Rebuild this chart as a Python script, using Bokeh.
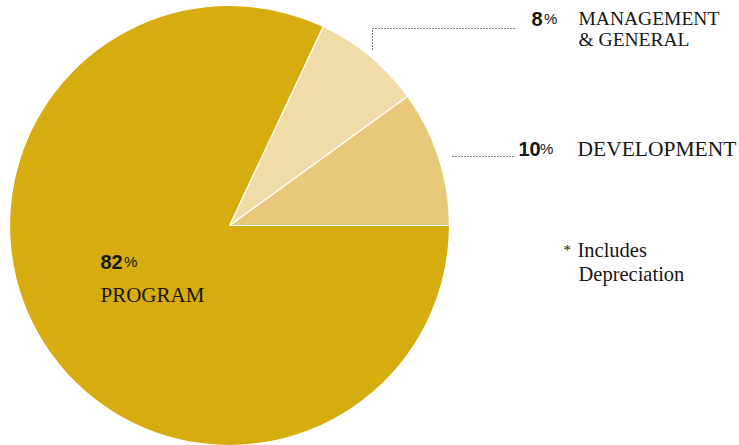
import math
from bokeh.plotting import figure
from bokeh.models import ColumnDataSource, Range1d
from bokeh.core.properties import value
from bokeh.embed import file_html
from bokeh.resources import INLINE

# ---- data ----
categories = ["DEVELOPMENT", "MANAGEMENT & GENERAL", "PROGRAM"]
percents = [10, 8, 82]
colors = ["#E8C879", "#F1DBA8", "#D6AC0F"]
pct_labels = ["10", "8", "82"]

W, H = 739, 445
TEXT_SHIFT = 8  # compensate baseline offset of text glyph

def Y(py):
    # page pixel (from top) -> data y (up)
    return H - py

def TY(py):
    return H - (py - TEXT_SHIFT)

def X(px):
    return px

p = figure(width=W, height=H, output_backend="svg", toolbar_location=None,
           x_range=Range1d(0, W), y_range=Range1d(0, H),
           min_border=0)
p.axis.visible = False
p.grid.visible = False
p.outline_line_color = None
p.background_fill_color = "white"
p.border_fill_color = "white"

# wedges
total = float(sum(percents))
starts, ends = [], []
acc = 0.0
for v in percents:
    starts.append(2 * math.pi * acc / total)
    acc += v
    ends.append(2 * math.pi * acc / total)

cx, cy, r = 229, 225, 220
src = ColumnDataSource(dict(x=[X(cx)] * 3, y=[Y(cy)] * 3, start=starts, end=ends,
                            color=colors, cat=categories))
p.wedge(x="x", y="y", radius=r, start_angle="start", end_angle="end",
        fill_color="color", line_color="white", line_width=1.2, source=src)

serif = value("Liberation Serif")
sans = value("Liberation Sans")
ink = "#161616"

# dotted leaders
p.line([X(372), X(372), X(516)], [Y(49), Y(28), Y(28)], line_color="#000000",
       line_width=1.1, line_dash="1 2")
p.line([X(452), X(515)], [Y(156), Y(156)], line_color="#000000",
       line_width=1.1, line_dash="1 2")

def num(px, py, s, pct_x):
    p.text([X(px)], [TY(py)], text=[s], text_font=sans, text_font_style="bold",
           text_font_size="20px", text_color=ink, text_baseline="alphabetic")
    p.text([X(pct_x)], [TY(py)], text=["%"], text_font=sans,
           text_font_size="15px", text_color=ink, text_baseline="alphabetic")

def lab(px, py, s, size="20px"):
    p.text([X(px)], [TY(py)], text=[s], text_font=serif,
           text_font_size=size, text_color=ink, text_baseline="alphabetic")

# management
num(531, 26, pct_labels[1], 543.5)
lab(578, 26, "MANAGEMENT", "19.5px")
lab(578, 47, "& GENERAL", "19.5px")
# development
num(518, 156, pct_labels[0], 539.5)
lab(577, 156, "DEVELOPMENT", "21.5px")
# program
num(100, 269, pct_labels[2], 123.5)
lab(100, 302, "PROGRAM", "21px")
# footnote
lab(563, 257, "*", "15px")
lab(577, 257, "Includes", "20.5px")
lab(578, 281, "Depreciation", "20.5px")

open("out.html", "w").write(file_html(p, INLINE))
